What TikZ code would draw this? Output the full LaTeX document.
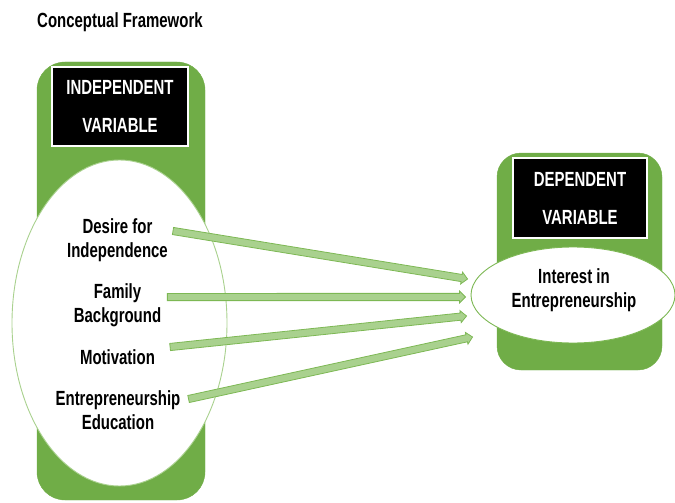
\documentclass[tikz,border=0pt]{standalone}
\usepackage{fontspec}
\setmainfont[FakeStretch=0.73]{Liberation Sans}
\usetikzlibrary{shapes.geometric,calc}
\definecolor{leaf}{HTML}{70AD47}
\definecolor{leaflight}{HTML}{A9D18E}
\definecolor{leafline}{HTML}{7DB854}

\begin{document}
\begin{tikzpicture}[x=1pt,y=-1pt,font=\fontsize{20.5}{24}\selectfont\bfseries,
  panel/.style={fill=leaf,draw=leaf,rounded corners=28pt},
  tag/.style={fill=black,draw=white,line width=1.6pt,text=white,align=center,inner sep=0pt,font=\fontsize{20.5}{38}\selectfont\bfseries},
  cloud/.style={ellipse,fill=white,draw=leaflight,line width=0.9pt,inner sep=0pt},
  item/.style={align=center,inner sep=2pt},
  blockarrow/.style={fill=leaflight,draw=leafline,line width=0.8pt,line join=miter}]
\useasboundingbox (0,0) rectangle (675,503);
\node[anchor=west,inner sep=0pt] (title) at (37,22) {Conceptual Framework};
% independent side
\node[panel,minimum width=168pt,minimum height=438pt] (ivpanel) at (121,281) {};
\node[tag,minimum width=136pt,minimum height=79pt] (ivtag) at (120,106.5) {INDEPENDENT\\VARIABLE};
\node[cloud,minimum width=215pt,minimum height=326pt] (ivset) at (119.5,323) {};
\node[item] (desire) at (117.5,240) {Desire for\\Independence};
\node[item] (family) at (117.5,305.5) {Family\\Background};
\node[item] (motiv) at (117.5,357) {Motivation};
\node[item] (educ) at (118,410.5) {Entrepreneurship\\Education};
% dependent side
\node[panel,minimum width=165pt,minimum height=217pt,rounded corners=24pt] (dvpanel) at (579.5,261.5) {};
\node[tag,minimum width=134pt,minimum height=80pt] (dvtag) at (580,198) {DEPENDENT\\VARIABLE};
\node[cloud,draw=leafline,minimum width=204pt,minimum height=96pt] (dvset) at (573,295) {};
\node[item] (interest) at (574,290.5) {Interest in\\Entrepreneurship};
% arrow ends
\coordinate (s1) at ([xshift=3pt,yshift=9pt]desire.east);
\coordinate (s2) at ([xshift=4pt,yshift=8.5pt]family.east);
\coordinate (s3) at ([xshift=13pt,yshift=10pt]motiv.east);
\coordinate (s4) at ([xshift=6pt,yshift=11.5pt]educ.east);
\coordinate (t1) at ([xshift=-3pt,yshift=16pt]dvset.west);
\coordinate (t2) at ([xshift=-5pt,yshift=-2pt]dvset.west);
\coordinate (t3) at ([xshift=-4pt,yshift=-21pt]dvset.west);
\coordinate (t4) at ([xshift=2pt,yshift=-42pt]dvset.west);
\foreach \s/\t in {s1/t1,s2/t2,s3/t3,s4/t4}
  \draw[blockarrow] ($(\s)!3.6pt!90:(\t)$) -- ($(\t)!7pt!-31:(\s)$) -- ($(\t)!8.5pt!-45:(\s)$)
    -- (\t) -- ($(\t)!8.5pt!45:(\s)$) -- ($(\t)!7pt!31:(\s)$) -- ($(\s)!3.6pt!-90:(\t)$) -- cycle;
\end{tikzpicture}
\end{document}
